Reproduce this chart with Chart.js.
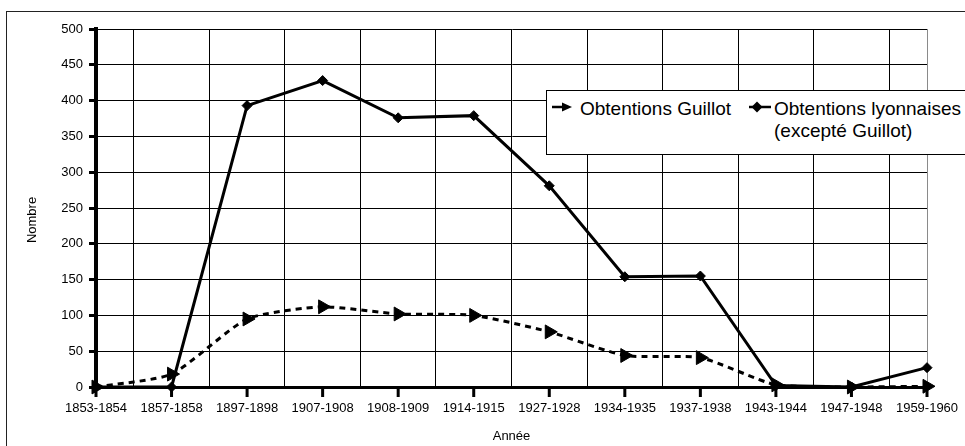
<!DOCTYPE html>
<html><head><meta charset="utf-8">
<script src="https://cdn.jsdelivr.net/npm/chart.js@4"></script>
<style>
html,body{margin:0;padding:0;background:#fff;overflow:hidden;}
#wrap{position:relative;width:965px;height:446px;}
canvas{position:absolute;left:0;top:0;}
#legend{position:absolute;left:546px;top:90px;width:440px;height:63px;border:1px solid #000;background:#fff;font-family:"Liberation Sans",Arial,sans-serif;font-size:19px;line-height:22px;color:#000;}
.lt{position:absolute;white-space:nowrap;}
.li{position:absolute;}
</style></head><body>
<div id="wrap">
<canvas id="c" width="965" height="446"></canvas>
<div id="legend"></div>
</div>
<script>
const categories = ['1853-1854','1857-1858','1897-1898','1907-1908','1908-1909','1914-1915','1927-1928','1934-1935','1937-1938','1943-1944','1947-1948','1959-1960'];
const guillot = [0, 18, 95, 112, 102, 100, 77, 44, 41, 3, 0, 1];
const lyonnaises = [0, 0, 393, 428, 376, 379, 281, 154, 155, 2, 0, 27];
const seriesNames = ['Obtentions Guillot', 'Obtentions lyonnaises (excepté Guillot)'];
const legendLines = [['Obtentions Guillot'], ['Obtentions lyonnaises', '(excepté Guillot)']];
const yMin = 0, yMax = 500, yStep = 50;
const xTitle = 'Année', yTitle = 'Nombre';

const FONT = '"Liberation Sans", Arial, sans-serif';
Chart.defaults.font.family = FONT;
Chart.defaults.color = '#000';

const decor = {
  id: 'decor',
  beforeDraw(chart) {
    const ctx = chart.ctx;
    ctx.save();
    ctx.fillStyle = '#fff';
    ctx.fillRect(0, 0, chart.width, chart.height);
    ctx.strokeStyle = '#222';
    ctx.lineWidth = 1;
    ctx.strokeRect(6.5, 11.5, chart.width + 20, chart.height + 20);
    ctx.restore();
  },
  beforeDatasetsDraw(chart) {
    const ctx = chart.ctx, a = chart.chartArea, x = chart.scales.x;
    ctx.save();
    ctx.strokeStyle = '#8a8a8a';
    ctx.lineWidth = 1;
    const r = Math.round(a.right) + 0.5;
    ctx.beginPath(); ctx.moveTo(r, a.top); ctx.lineTo(r, a.bottom); ctx.stroke();
    ctx.strokeStyle = '#000';
    ctx.lineWidth = 3;
    ctx.beginPath();
    categories.forEach((c, i) => {
      const px = x.getPixelForValue(i);
      ctx.moveTo(px, a.bottom);
      ctx.lineTo(px, a.bottom + 10);
    });
    ctx.stroke();
    ctx.translate(32, 220);
    ctx.rotate(-Math.PI / 2);
    ctx.font = '13px ' + FONT;
    ctx.fillStyle = '#000';
    ctx.textAlign = 'center';
    ctx.textBaseline = 'middle';
    ctx.fillText(yTitle, 0, 0);
    ctx.restore();
  }
};

new Chart(document.getElementById('c'), {
  type: 'line',
  data: {
    labels: categories,
    datasets: [
      {
        label: seriesNames[0], data: guillot,
        borderColor: '#000', backgroundColor: '#000', borderWidth: 3, borderDash: [6, 5],
        tension: 0.2, pointStyle: 'triangle', pointRotation: 90, pointRadius: 8,
        pointBorderWidth: 1, pointBackgroundColor: '#000', pointBorderColor: '#000', clip: false
      },
      {
        label: seriesNames[1], data: lyonnaises,
        borderColor: '#000', backgroundColor: '#000', borderWidth: 3,
        tension: 0, pointStyle: 'rectRot', pointRadius: 5,
        pointBorderWidth: 1, pointBackgroundColor: '#000', pointBorderColor: '#000', clip: false
      }
    ]
  },
  options: {
    responsive: false,
    animation: false,
    devicePixelRatio: 1,
    layout: { padding: { left: 0, top: 29, right: 38, bottom: 0 } },
    plugins: { legend: { display: false }, tooltip: { enabled: false } },
    scales: {
      x: {
        type: 'category', offset: false,
        grid: { offset: true, color: '#000', lineWidth: 1, drawTicks: true, tickLength: 14, tickColor: 'rgba(0,0,0,0)' },
        border: { display: true, color: '#000', width: 3 },
        ticks: { font: { size: 13 }, color: '#000', padding: 0, maxRotation: 0, autoSkip: false },
        title: { display: true, text: xTitle, font: { size: 13 }, color: '#000', padding: { top: 0, bottom: 2 } },
        afterFit(s) { s.height = 59; }
      },
      y: {
        min: yMin, max: yMax,
        grid: { color: '#000', lineWidth: 1, tickLength: 7, tickWidth: 3, tickColor: '#000' },
        border: { display: true, color: '#000', width: 4 },
        ticks: { stepSize: yStep, font: { size: 13 }, color: '#000', padding: 6 },
        afterFit(s) { s.width = 96; }
      }
    }
  },
  plugins: [decor]
});

// HTML legend (real text)
const lg = document.getElementById('legend');
lg.innerHTML =
  '<svg class="li" style="left:5px;top:9px" width="22" height="14"><line x1="0" y1="7" x2="13" y2="7" stroke="#000" stroke-width="2.5"/><polygon points="10,2.5 20,7 10,11.5" fill="#000"/></svg>' +
  '<span class="lt" style="left:33px;top:7px">' + legendLines[0].join('<br>') + '</span>' +
  '<svg class="li" style="left:200px;top:9px" width="25" height="14"><line x1="2" y1="7" x2="24" y2="7" stroke="#000" stroke-width="2.5"/><polygon points="10,1.5 15.5,7 10,12.5 4.5,7" fill="#000"/></svg>' +
  '<span class="lt" style="left:227px;top:7px">' + legendLines[1].join('<br>') + '</span>';
</script>
</body></html>
